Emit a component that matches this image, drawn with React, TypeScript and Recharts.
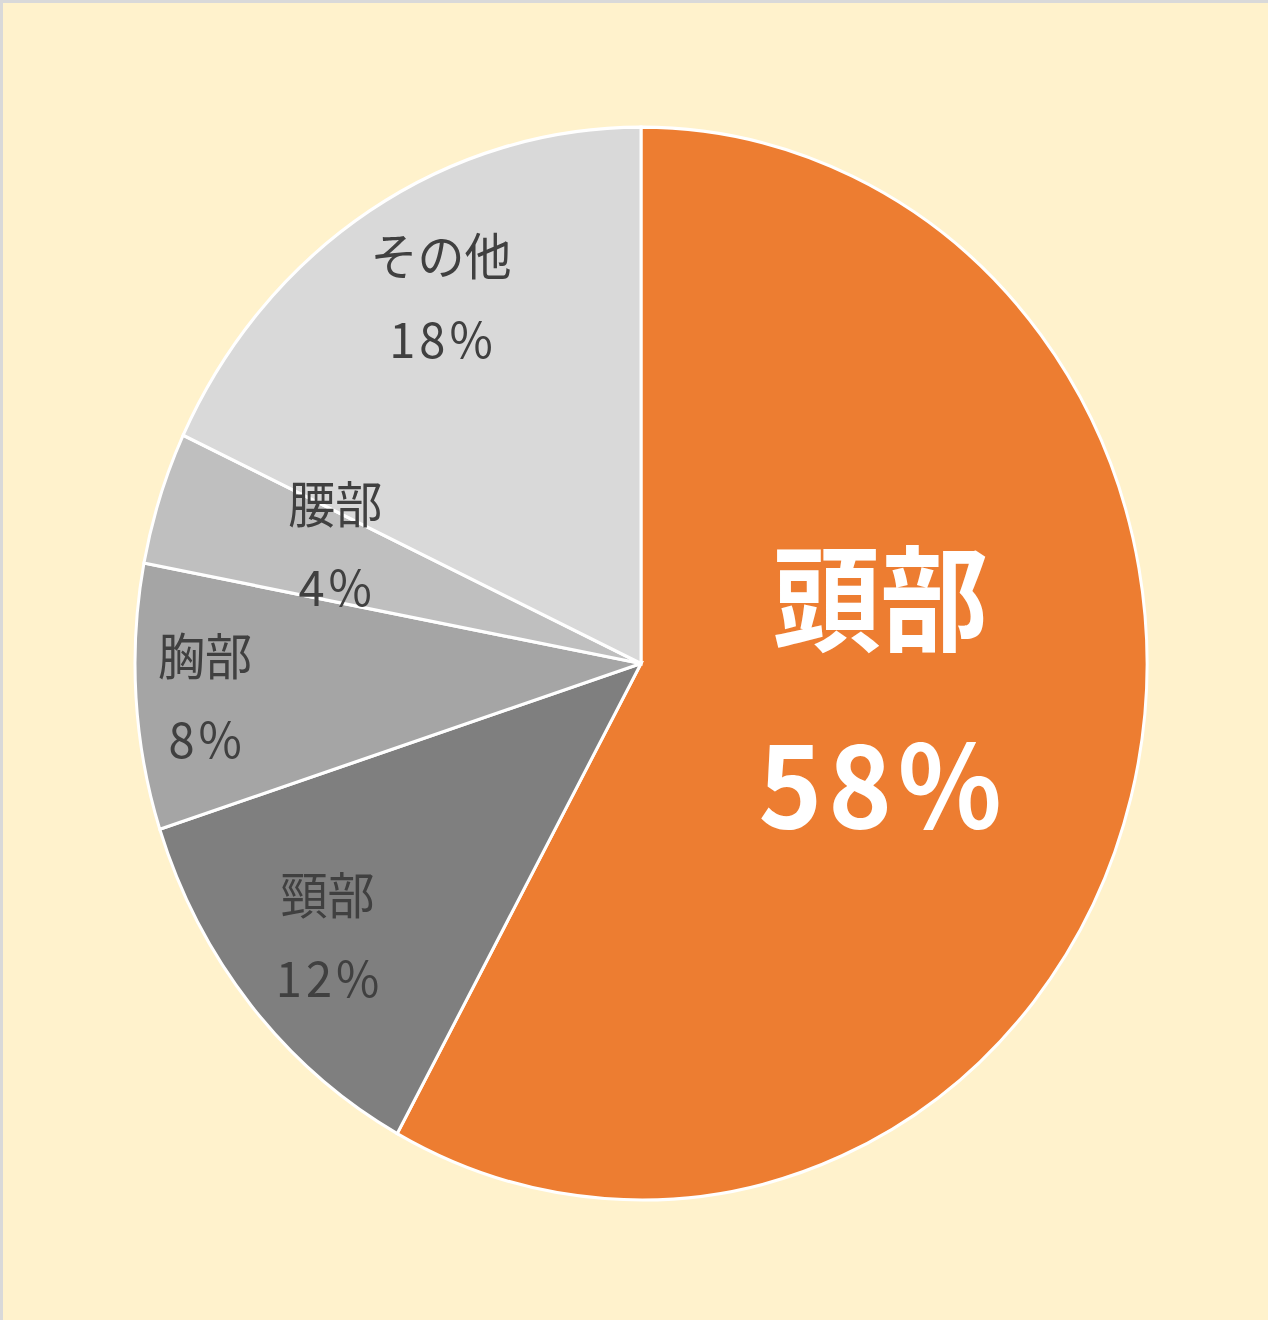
import { Cell, Pie, PieChart } from 'recharts'

const parts = ['頭部', '頸部', '胸部', '腰部', 'その他']
const shares = [58, 12, 8, 4, 18]
const colors = ['#ED7D31', '#7F7F7F', '#A5A5A5', '#BFBFBF', '#D9D9D9']

// Excel "best fit" label placement: share of radius and a small turn off the mid angle
const labelRadius = [0.476, 0.804, 0.864, 0.642, 0.786]
const labelTurn = [7.6, 0, 0.8, -1.7, -2.2]

const data = parts.map((name, i) => ({ name, value: shares[i] }))

const RAD = Math.PI / 180
const FONT = '"Noto Sans CJK JP", "Noto Sans", sans-serif'

function SliceLabel(props: any) {
  const { cx, cy, midAngle, outerRadius, index, name, value } = props
  const r = outerRadius * labelRadius[index]
  const a = (midAngle + labelTurn[index]) * RAD
  const big = index === 0
  const x = cx + r * Math.cos(-a)
  // glyphs sit a little low with dominantBaseline central, lift them a bit
  const y = cy + r * Math.sin(-a) - (big ? 8 : 4)
  const gap = big ? 88 : 39
  const style = {
    fontFamily: FONT,
    fontSize: big ? 108 : 47,
    fontWeight: big ? 700 : 400,
    fill: big ? '#FFFFFF' : '#404040',
  }
  const spacing = big ? 6 : 4
  return (
    <g>
      <text x={x} y={y - gap} textAnchor="middle" dominantBaseline="central" style={style}>
        {name}
      </text>
      <text
        x={x + spacing / 2}
        y={y + gap}
        textAnchor="middle"
        dominantBaseline="central"
        style={{ ...style, letterSpacing: spacing }}
      >
        {value}%
      </text>
    </g>
  )
}

export default function App() {
  return (
    <div
      style={{
        position: 'fixed',
        left: 0,
        top: 0,
        width: 1268,
        height: 1320,
        background: '#FFF2CC',
        borderTop: '3px solid #D9D9D9',
        borderLeft: '3px solid #D9D9D9',
        boxSizing: 'border-box',
        overflow: 'hidden',
      }}
    >
      <div style={{ position: 'absolute', left: -3, top: -3, transform: 'scaleY(1.06)', transformOrigin: '0 0' }}>
        <PieChart width={1268} height={1246} margin={{ top: 0, right: 0, bottom: 0, left: 0 }}>
          <Pie
            data={data}
            dataKey="value"
            nameKey="name"
            cx={641}
            cy={626}
            outerRadius={506}
            startAngle={90}
            endAngle={-270}
            stroke="#FFFFFF"
            strokeWidth={3}
            label={SliceLabel}
            labelLine={false}
            isAnimationActive={false}
          >
            {data.map((d, i) => (
              <Cell key={d.name} fill={colors[i]} />
            ))}
          </Pie>
        </PieChart>
      </div>
    </div>
  )
}
